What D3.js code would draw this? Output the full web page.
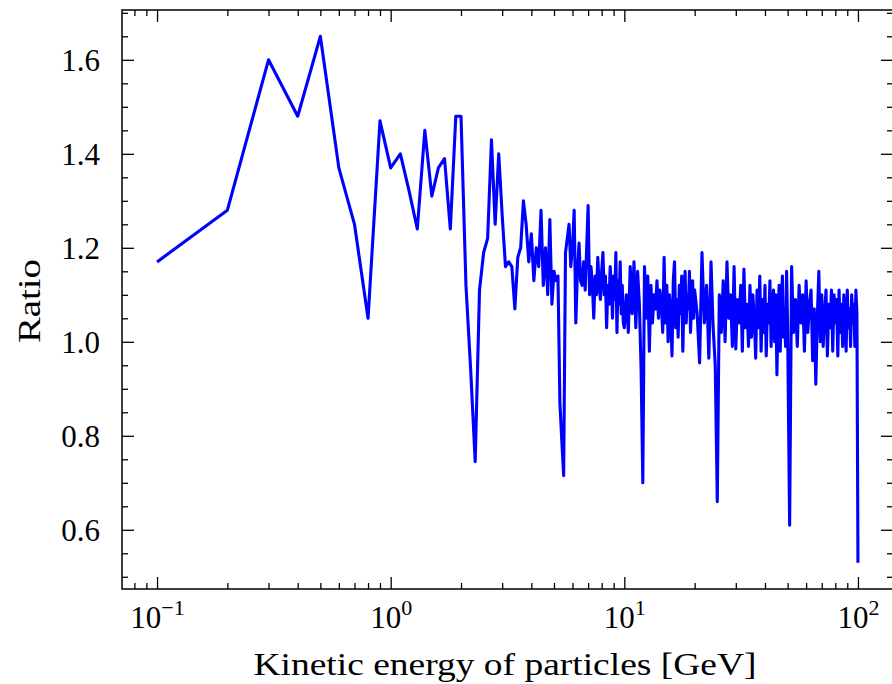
<!DOCTYPE html>
<html>
<head>
<meta charset="utf-8">
<script src="https://cdn.jsdelivr.net/npm/d3@7"></script>
<style>
  html, body { margin: 0; padding: 0; background: #fff; }
  #chart { width: 892px; height: 684px; }
</style>
</head>
<body>
<div id="chart"></div>
<script>
// ratio values, one array per energy segment
// E = 0.1 ... 3.0 GeV, step 0.1
const ratioLow = [
  1.17, 1.28, 1.60, 1.48, 1.65, 1.37, 1.25, 1.05, 1.47, 1.37,
  1.40, 1.32, 1.24, 1.45, 1.31, 1.37, 1.39, 1.24, 1.48, 1.48,
  1.12, 0.94, 0.745, 1.11, 1.19, 1.22, 1.43, 1.25, 1.40, 1.27
];
// E = 3.1 ... 10.0 GeV, step 0.1
const ratioMid = [
  1.16, 1.17, 1.16, 1.07, 1.18, 1.20, 1.30, 1.25, 1.17, 1.23,
  1.13, 1.20, 1.16, 1.28, 1.12, 1.20, 1.10, 1.26, 1.08, 1.15,
  1.13, 1.14, 0.87, 0.79, 0.715, 1.19, 1.22, 1.25, 1.16, 1.20,
  1.28, 1.04, 1.15, 1.21, 1.13, 1.12, 1.17, 1.11, 1.20, 1.29,
  1.10, 1.16, 1.12, 1.05, 1.14, 1.10, 1.18, 1.12, 1.09, 1.15,
  1.19, 1.10, 1.14, 1.03, 1.12, 1.08, 1.16, 1.12, 1.05, 1.14,
  1.09, 1.19, 1.02, 1.13, 1.08, 1.17, 1.06, 1.12, 1.04, 1.03
];
// E = 10.2 ... 20.0 GeV, step 0.2
const ratioTen = [
  1.10, 1.02, 1.16, 1.06, 1.17, 1.03, 1.15, 1.08, 0.94, 0.70,
  1.16, 1.05, 1.14, 0.98, 1.12, 1.04, 1.10, 1.07, 1.13, 1.05,
  1.11, 1.08, 1.02, 1.18, 1.04, 1.12, 1.00, 1.10, 1.06, 0.97,
  1.13, 1.17, 1.03, 1.09, 1.01, 1.12, 1.06, 1.14, 0.98, 1.09,
  1.15, 1.04, 1.10, 1.07, 1.15, 1.02, 1.08, 1.13, 1.05, 1.11
];
// E = 20.5 ... 50.0 GeV, step 0.5
const ratioTwenty = [
  1.06, 0.955, 1.19, 1.04, 1.12, 0.965, 1.17, 1.03, 0.95, 0.66,
  1.10, 1.02, 1.13, 1.00, 1.17, 1.05, 1.10, 0.99, 1.16, 0.985,
  1.09, 1.04, 1.12, 0.98, 1.155, 1.03, 1.08, 0.99, 1.12, 1.01,
  1.10, 1.05, 0.965, 1.11, 1.03, 1.14, 0.98, 1.09, 1.02, 1.12,
  0.97, 1.08, 1.04, 1.13, 0.99, 1.07, 1.11, 1.00, 1.10, 0.93,
  1.06, 1.12, 0.98, 1.09, 1.14, 1.01, 1.07, 0.99, 1.15, 1.03
];
// E = 51 ... 100 GeV, step 1
const ratioFifty = [
  0.61, 1.16, 1.02, 1.09, 0.99, 1.12, 1.04, 1.10, 0.98, 1.13,
  1.02, 1.08, 1.11, 0.96, 1.07, 0.91, 1.05, 1.15, 1.00, 1.10,
  0.99, 1.06, 1.11, 0.97, 1.08, 1.03, 1.11, 0.98, 1.10, 1.04,
  1.09, 0.97, 1.11, 1.02, 1.08, 0.99, 1.10, 1.05, 0.98, 1.11,
  1.03, 1.07, 0.99, 1.10, 1.04, 1.08, 0.99, 1.11, 1.06, 0.53
];

const segments = [
  { start: 0.1, step: 0.1, values: ratioLow },
  { start: 3.1, step: 0.1, values: ratioMid },
  { start: 10.2, step: 0.2, values: ratioTen },
  { start: 20.5, step: 0.5, values: ratioTwenty },
  { start: 51, step: 1, values: ratioFifty }
];

const xTicks = [0.1, 1, 10, 100];
const xTickExponents = ["\u22121", "0", "1", "2"];
const yTicks = [0.6, 0.8, 1.0, 1.2, 1.4, 1.6];

const data = segments.flatMap(s =>
  s.values.map((v, i) => ({ e: +(s.start + i * s.step).toFixed(2), r: v }))
);

const width = 892;
const height = 684;
const plotLeft = 122, plotTop = 10, plotRight = 893, plotBottom = 589;
const font = "'Liberation Serif', 'DejaVu Serif', serif";

// matplotlib-like 5% margins
const lx = d3.extent(data, d => Math.log10(d.e));
const lxPad = (lx[1] - lx[0]) * 0.05;
const x = d3.scaleLog()
  .domain([Math.pow(10, lx[0] - lxPad), Math.pow(10, lx[1] + lxPad)])
  .range([plotLeft, plotRight]);

const ry = d3.extent(data, d => d.r);
const ryPad = (ry[1] - ry[0]) * 0.05;
const y = d3.scaleLinear()
  .domain([ry[0] - ryPad, ry[1] + ryPad])
  .range([plotBottom, plotTop]);

const [x0, x1] = x.domain();
const xMinor = [];
for (let p = -2; p <= 2; p++) {
  for (let m = 2; m <= 9; m++) {
    const v = m * Math.pow(10, p);
    if (v >= x0 && v <= x1) xMinor.push(v);
  }
}
const yMinor = d3.range(0.5, 1.71, 0.05)
  .map(v => +v.toFixed(2))
  .filter(v => v >= y.domain()[0] && v <= y.domain()[1])
  .filter(v => !yTicks.some(t => Math.abs(t - v) < 1e-6));

const svg = d3.select("#chart")
  .append("svg")
  .attr("width", width)
  .attr("height", height)
  .attr("viewBox", `0 0 ${width} ${height}`);

svg.append("rect")
  .attr("width", width)
  .attr("height", height)
  .attr("fill", "#fff");

const line = d3.line()
  .x(d => x(d.e))
  .y(d => y(d.r));

svg.append("path")
  .datum(data)
  .attr("d", line)
  .attr("fill", "none")
  .attr("stroke", "#0000ff")
  .attr("stroke-width", 3.1)
  .attr("stroke-linejoin", "round");

function tidy(g) {
  g.select(".domain").remove();
  g.selectAll(".tick line").attr("stroke", "#000").attr("stroke-width", 1.3);
}

// inward ticks on all four sides
svg.append("g")
  .attr("transform", `translate(0,${plotBottom})`)
  .call(d3.axisBottom(x).tickValues(xMinor).tickSize(-6).tickFormat(""))
  .call(tidy);
svg.append("g")
  .attr("transform", `translate(0,${plotTop})`)
  .call(d3.axisTop(x).tickValues(xMinor).tickSize(-6).tickFormat(""))
  .call(tidy);
svg.append("g")
  .attr("transform", `translate(0,${plotTop})`)
  .call(d3.axisTop(x).tickValues(xTicks).tickSize(-12).tickFormat(""))
  .call(tidy);

const xAxis = svg.append("g")
  .attr("transform", `translate(0,${plotBottom})`)
  .call(d3.axisBottom(x).tickValues(xTicks).tickSize(-12).tickFormat(""))
  .call(tidy);

xAxis.selectAll(".tick text").each(function (d, i) {
  const t = d3.select(this)
    .text(null)
    .attr("y", 38.5)
    .attr("dy", null)
    .attr("fill", "#000")
    .attr("font-family", font)
    .attr("font-size", 31);
  t.append("tspan").text("10");
  t.append("tspan")
    .attr("font-size", 22)
    .attr("dy", -12.5)
    .text(xTickExponents[i]);
});

svg.append("g")
  .attr("transform", `translate(${plotLeft},0)`)
  .call(d3.axisLeft(y).tickValues(yMinor).tickSize(-6).tickFormat(""))
  .call(tidy);
svg.append("g")
  .attr("transform", `translate(${plotRight},0)`)
  .call(d3.axisRight(y).tickValues(yMinor).tickSize(-6).tickFormat(""))
  .call(tidy);
svg.append("g")
  .attr("transform", `translate(${plotRight},0)`)
  .call(d3.axisRight(y).tickValues(yTicks).tickSize(-12).tickFormat(""))
  .call(tidy);

svg.append("g")
  .attr("transform", `translate(${plotLeft},0)`)
  .call(d3.axisLeft(y).tickValues(yTicks).tickSize(-12).tickPadding(22).tickFormat(d3.format(".1f")))
  .call(tidy)
  .selectAll(".tick text")
  .attr("fill", "#000")
  .attr("font-family", font)
  .attr("font-size", 31)
  .attr("dy", "0.36em");

svg.append("rect")
  .attr("x", plotLeft)
  .attr("y", plotTop)
  .attr("width", plotRight - plotLeft)
  .attr("height", plotBottom - plotTop)
  .attr("fill", "none")
  .attr("stroke", "#000")
  .attr("stroke-width", 1.5);

svg.append("text")
  .attr("x", 505)
  .attr("y", 675)
  .attr("text-anchor", "middle")
  .attr("font-family", font)
  .attr("font-size", 31)
  .attr("textLength", 503)
  .attr("lengthAdjust", "spacingAndGlyphs")
  .attr("fill", "#000")
  .text("Kinetic energy of particles [GeV]");

svg.append("text")
  .attr("transform", "translate(40,301) rotate(-90)")
  .attr("text-anchor", "middle")
  .attr("font-family", font)
  .attr("font-size", 31)
  .attr("textLength", 84)
  .attr("lengthAdjust", "spacingAndGlyphs")
  .attr("fill", "#000")
  .text("Ratio");
</script>
</body>
</html>
